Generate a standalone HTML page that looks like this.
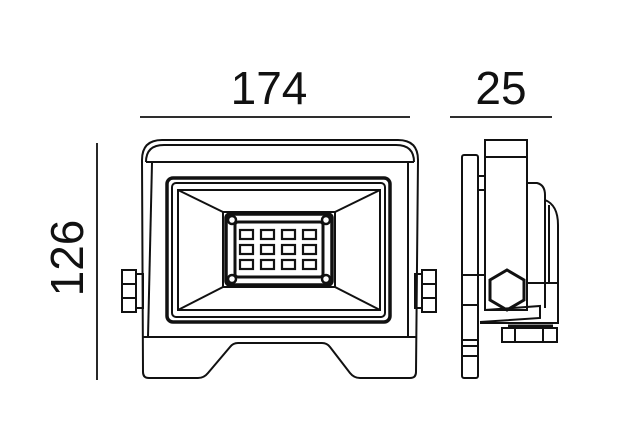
<!DOCTYPE html>
<html><head><style>
html,body{margin:0;padding:0;background:#fff;}
svg{display:block;}
text{font-family:"Liberation Sans",sans-serif;fill:#111;}
</style></head><body>
<svg width="618" height="428" viewBox="0 0 618 428" xmlns="http://www.w3.org/2000/svg">
<g stroke="#111" fill="none" stroke-width="1.8">
<line x1="140" y1="117" x2="410" y2="117"/>
<line x1="450" y1="117" x2="552" y2="117"/>
<line x1="97" y1="143" x2="97" y2="380"/>
</g>
<text x="269" y="104" font-size="46" text-anchor="middle">174</text>
<text x="501" y="104" font-size="46" text-anchor="middle">25</text>
<text transform="translate(83,258) rotate(-90)" font-size="46" text-anchor="middle">126</text>

<g stroke="#111" fill="none" stroke-width="2">
<path d="M142 160 Q142 140 162 140 L398 140 Q418 140 418 160 L416 372 Q416 378 410 378 L360 378 Q354 378 350 373 L330 347 Q327 343 322 343 L238 343 Q233 343 230 347 L208 373 Q204 378 198 378 L149 378 Q143 378 143 372 Z"/>
<path d="M146 162 Q146 145 164 145 L396 145 Q414 145 414 162"/>
<line x1="146" y1="162" x2="414" y2="162"/>
<line x1="152" y1="163" x2="148" y2="337"/>
<line x1="408" y1="163" x2="408" y2="337"/>
<line x1="143" y1="337" x2="416" y2="337"/>
<rect x="167" y="178" width="223" height="144" rx="6" stroke-width="3.5"/>
<rect x="172" y="183" width="213" height="134" rx="4"/>
<rect x="178" y="190" width="202" height="120"/>
<line x1="178" y1="190" x2="223" y2="212"/>
<line x1="380" y1="190" x2="335" y2="212"/>
<line x1="178" y1="310" x2="223" y2="287"/>
<line x1="380" y1="310" x2="335" y2="287"/>
<rect x="223" y="212" width="112" height="75"/>
<rect x="226" y="214" width="106" height="71" rx="4" stroke-width="3.5"/>
<rect x="235" y="222" width="88" height="55" rx="3" stroke-width="3"/>
<circle cx="232" cy="220" r="4" stroke-width="2.5"/>
<circle cx="326" cy="220" r="4" stroke-width="2.5"/>
<circle cx="232" cy="279" r="4" stroke-width="2.5"/>
<circle cx="326" cy="279" r="4" stroke-width="2.5"/>
<g stroke-width="2.2">
<rect x="240" y="230" width="13" height="9"/><rect x="261" y="230" width="13" height="9"/><rect x="282" y="230" width="13" height="9"/><rect x="303" y="230" width="13" height="9"/>
<rect x="240" y="245" width="13" height="9"/><rect x="261" y="245" width="13" height="9"/><rect x="282" y="245" width="13" height="9"/><rect x="303" y="245" width="13" height="9"/>
<rect x="240" y="260" width="13" height="9"/><rect x="261" y="260" width="13" height="9"/><rect x="282" y="260" width="13" height="9"/><rect x="303" y="260" width="13" height="9"/>
</g>
<rect x="122" y="270" width="14" height="42"/>
<line x1="122" y1="284" x2="136" y2="284"/><line x1="122" y1="298" x2="136" y2="298"/>
<rect x="136" y="274" width="7" height="34"/>
<rect x="422" y="270" width="14" height="42"/>
<line x1="422" y1="284" x2="436" y2="284"/><line x1="422" y1="298" x2="436" y2="298"/>
<rect x="415" y="274" width="7" height="34"/>

<rect x="462" y="155" width="16" height="223" rx="2"/>
<line x1="462" y1="275" x2="485" y2="275"/>
<line x1="462" y1="305" x2="478" y2="305"/>
<line x1="462" y1="340" x2="478" y2="340"/>
<line x1="462" y1="346" x2="478" y2="346"/>
<line x1="462" y1="356" x2="478" y2="356"/>
<rect x="478" y="176" width="7" height="14"/>
<rect x="485" y="140" width="42" height="170"/>
<line x1="485" y1="157" x2="527" y2="157"/>
<path d="M527 183 L537 183 Q545 185 545 195 L545 308"/>
<path d="M545 200 Q558 205 558 225 L558 323 L480 323"/>
<line x1="549" y1="205" x2="549" y2="283"/>
<line x1="527" y1="283" x2="558" y2="283"/>
<path d="M485 310 L540 306 L540 318 L480 322"/>
<polygon points="507,270 524,280 524,300 507,310 490,300 490,280" stroke-width="3"/>
<rect x="502" y="328" width="55" height="14"/>
<line x1="515" y1="328" x2="515" y2="342"/><line x1="543" y1="328" x2="543" y2="342"/>
<line x1="508" y1="326" x2="553" y2="326" stroke-width="3"/>
</g>
</svg>
</body></html>
